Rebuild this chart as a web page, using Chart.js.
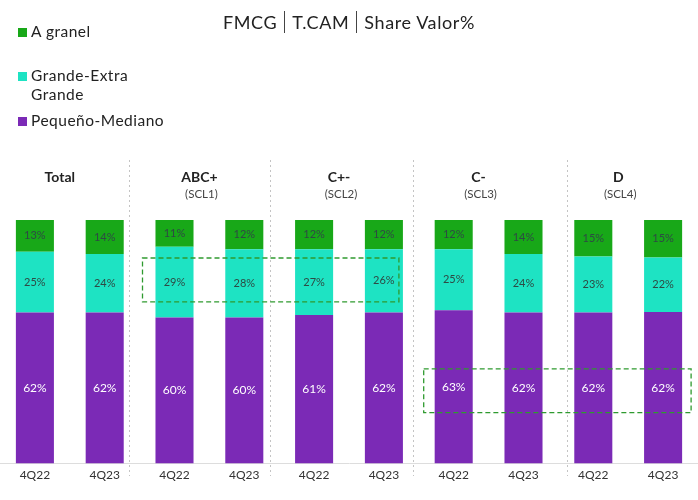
<!DOCTYPE html>
<html>
<head>
<meta charset="utf-8">
<script src="https://cdn.jsdelivr.net/npm/chart.js@4.4.1/dist/chart.umd.min.js"></script>
<style>
  body { margin: 0; background: #fff; font-family: "Lato", "Open Sans", sans-serif; }
  #wrap { position: relative; width: 698px; height: 500px; overflow: hidden; }
  #chart { position: absolute; left: 0; top: 0; }
  .title { position: absolute; top: 11px; left: 0; width: 698px; text-align: center; font-size: 18px; letter-spacing: 0.6px; color: #222; }
  .title span { padding: 0 7px; }
  .title span + span { border-left: 1px solid #444; }
  .legend { position: absolute; left: 18px; font-size: 15.5px; letter-spacing: 0.5px; color: #222; line-height: 19px; }
  .legend i { position: absolute; left: 0; top: 6px; width: 9px; height: 9px; }
  .legend div { padding-left: 13px; }
</style>
</head>
<body>
<div id="wrap">
  <canvas id="chart" width="698" height="500"></canvas>
  <div class="title"><span>FMCG</span><span>T.CAM</span><span>Share Valor%</span></div>
  <div class="legend" style="top:22px"><i style="background:#18a818"></i><div>A granel</div></div>
  <div class="legend" style="top:66px"><i style="background:#1ee3c3"></i><div>Grande-Extra<br>Grande</div></div>
  <div class="legend" style="top:111px"><i style="background:#7b2ab6"></i><div>Pequeño-Mediano</div></div>
</div>
<script>
// chart data
const periods = ['4Q22', '4Q23', '4Q22', '4Q23', '4Q22', '4Q23', '4Q22', '4Q23', '4Q22', '4Q23'];
const groupNames = ['Total', 'ABC+', 'C+-', 'C-', 'D'];
const groupSubs = ['', '(SCL1)', '(SCL2)', '(SCL3)', '(SCL4)'];
const aGranel = [13, 14, 11, 12, 12, 12, 12, 14, 15, 15.4];
const grandeExtra = [25, 24, 29, 28, 27, 26, 25, 24, 23, 22.4];
const pequenoMediano = [62, 62, 60, 60, 61, 62, 63, 62, 62, 62.2];

const colors = { granel: '#18a818', grande: '#1ee3c3', pequeno: '#7b2ab6' };
const fontFam = '"Lato", "Open Sans", sans-serif';

// labels inside each bar segment
const segmentLabels = {
    id: 'segmentLabels',
    afterDatasetsDraw(chart) {
        const ctx = chart.ctx;
        ctx.save();
        ctx.textAlign = 'center';
        ctx.textBaseline = 'middle';
        chart.data.datasets.forEach((ds, di) => {
            const meta = chart.getDatasetMeta(di);
            meta.data.forEach((bar, i) => {
                const { x, y, base } = bar.getProps(['x', 'y', 'base'], true);
                const isPurple = di === 0;
                ctx.fillStyle = isPurple ? '#ffffff' : '#2e4a44';
                ctx.font = (isPurple ? '12px ' : '11px ') + fontFam;
                ctx.fillText(Math.round(ds.data[i]) + '%', x, (y + base) / 2);
            });
        });
        ctx.restore();
    }
};

// group headers, separators and highlight boxes
const decorations = {
    id: 'decorations',
    beforeDatasetsDraw(chart) {
        const ctx = chart.ctx;
        const xs = chart.scales.x;
        const sepOffsets = [-11, -9, -6, 9];
        ctx.save();
        // dotted separators
        ctx.strokeStyle = '#c4c4c4';
        ctx.lineWidth = 1;
        ctx.setLineDash([2, 3]);
        for (let g = 1; g < groupNames.length; g++) {
            const xm = (xs.getPixelForValue(g * 2 - 1) + xs.getPixelForValue(g * 2)) / 2 + sepOffsets[g - 1];
            ctx.beginPath();
            ctx.moveTo(Math.round(xm) + 0.5, 160);
            ctx.lineTo(Math.round(xm) + 0.5, 476);
            ctx.stroke();
        }
        ctx.setLineDash([]);
        // headers
        ctx.textAlign = 'center';
        ctx.textBaseline = 'middle';
        groupNames.forEach((name, g) => {
            const xc = (xs.getPixelForValue(g * 2) + xs.getPixelForValue(g * 2 + 1)) / 2 - 10;
            ctx.fillStyle = '#222';
            ctx.font = 'bold 14px ' + fontFam;
            ctx.fillText(name, xc, 177);
            if (groupSubs[g]) {
                ctx.fillStyle = '#444';
                ctx.font = '11.5px ' + fontFam;
                ctx.fillText(groupSubs[g], xc + 2, 194);
            }
        });
        ctx.restore();
    },
    afterDatasetsDraw(chart) {
        const ctx = chart.ctx;
        const xs = chart.scales.x;
        const ys = chart.scales.y;
        ctx.save();
        ctx.strokeStyle = '#2f9a2f';
        ctx.lineWidth = 1.3;
        ctx.setLineDash([5, 3]);
        // box around Grande-Extra of ABC+ and C+-
        const b1l = xs.getPixelForValue(2) - 32, b1r = xs.getPixelForValue(5) + 15;
        ctx.strokeRect(b1l, ys.getPixelForValue(84.4), b1r - b1l, ys.getPixelForValue(66.4) - ys.getPixelForValue(84.4));
        // box around Pequeño-Mediano of C- and D
        const b2l = xs.getPixelForValue(6) - 30, b2r = xs.getPixelForValue(9) + 28;
        ctx.strokeRect(b2l, ys.getPixelForValue(38.9), b2r - b2l, ys.getPixelForValue(20.9) - ys.getPixelForValue(38.9));
        ctx.restore();
    }
};

new Chart(document.getElementById('chart'), {
    type: 'bar',
    data: {
        labels: periods,
        datasets: [
            { label: 'Pequeño-Mediano', data: pequenoMediano, backgroundColor: colors.pequeno },
            { label: 'Grande-Extra Grande', data: grandeExtra, backgroundColor: colors.grande },
            { label: 'A granel', data: aGranel, backgroundColor: colors.granel }
        ]
    },
    options: {
        responsive: false,
        animation: false,
        layout: { padding: { top: 220, bottom: 14, left: 0, right: 0 } },
        datasets: { bar: { categoryPercentage: 1, barPercentage: 0.545 } },
        plugins: { legend: { display: false }, tooltip: { enabled: false } },
        scales: {
            x: {
                stacked: true,
                grid: { display: false, drawTicks: false },
                border: { display: true, color: '#dddddd' },
                ticks: { padding: 4, color: '#333', font: { size: 12, family: fontFam } }
            },
            y: {
                stacked: true,
                display: false,
                min: 0,
                max: 100
            }
        }
    },
    plugins: [decorations, segmentLabels]
});
</script>
</body>
</html>
